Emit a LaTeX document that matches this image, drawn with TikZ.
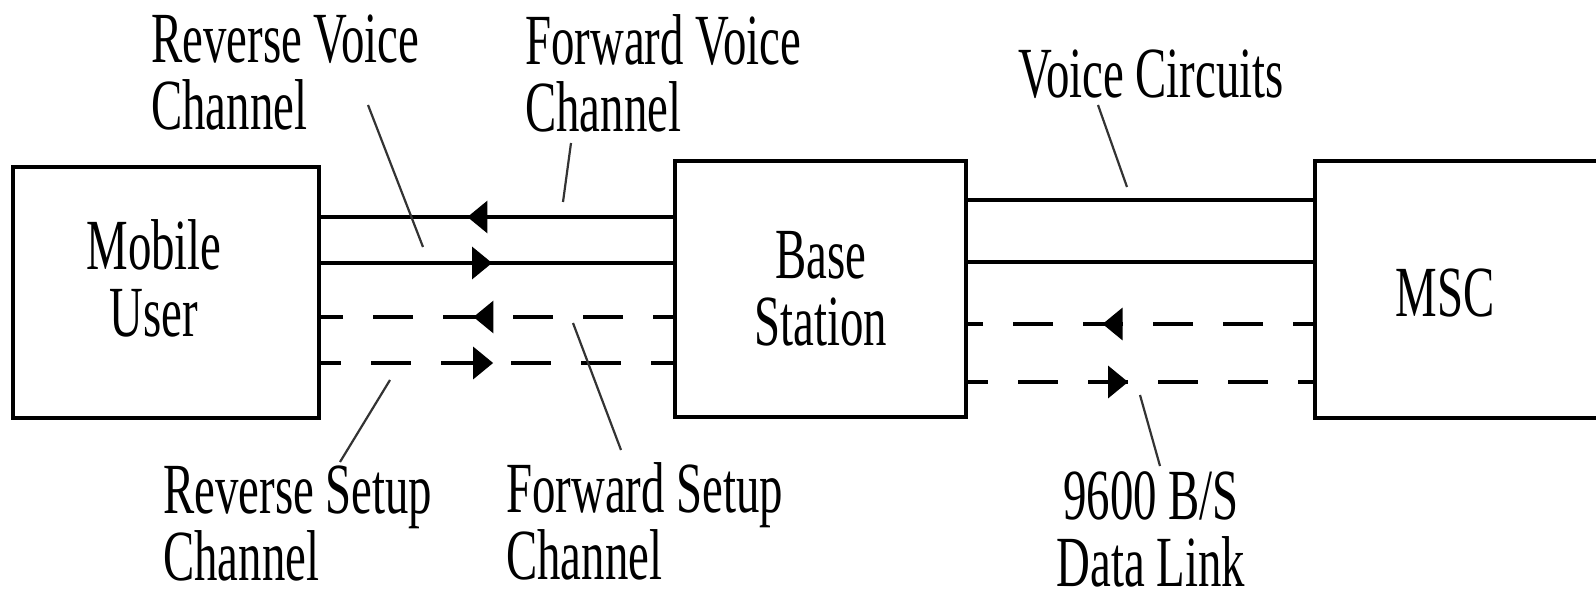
\documentclass[tikz,border=0pt]{standalone}
\usepackage{fontspec}
\setmainfont{Liberation Serif}
\usepackage{tikz}
\usetikzlibrary{arrows.meta,decorations.markings}

\tikzset{
  unitbox/.style={draw,line width=2pt,inner sep=0pt},
  lbl/.style={font=\fontsize{36}{33.5}\selectfont,align=left,xscale=0.65,inner sep=0pt},
  chan/.style={line width=1.7pt},
  setup/.style={chan,dash pattern=on 20pt off 15pt,dash phase=10pt},
  leader/.style={line width=1.1pt,black!80},
  tipat/.style={postaction={decorate},decoration={markings,
    mark=at position #1 with {\arrow{Triangle[length=10pt,width=16pt]}}}},
}

\begin{document}
\begin{tikzpicture}[x=0.5pt,y=-0.5pt]
\useasboundingbox (0,0) rectangle (1596,598);

% the three units; the MSC box runs off the right edge
\node[unitbox,minimum width=153pt,minimum height=125.5pt] (mob) at (166,292.5) {};
\node[unitbox,minimum width=145.5pt,minimum height=128pt] (base) at (820.5,289) {};
\node[unitbox,minimum width=162.5pt,minimum height=128.5pt] (msc) at (1477.5,289.5) {};
\node[lbl,align=center] (mobtxt) at (154,278) {Mobile\\User};
\node[lbl,align=center] (basetxt) at (821,289) {Base\\Station};
\node[lbl] (msctxt) at (1445,293) {MSC};

% radio channels between mobile and base
\draw[chan,tipat=0.584] (base.west |- 0,217) -- (mob.east |- 0,217);
\draw[chan,tipat=0.486] (mob.east |- 0,263) -- (base.west |- 0,263);
\draw[setup,tipat=0.567] (base.west |- 0,317) -- (mob.east |- 0,317);
\draw[setup,tipat=0.489] (mob.east |- 0,363) -- (base.west |- 0,363);

% trunk side: voice circuits and data link
\draw[chan] (base.east |- 0,200) -- (msc.west |- 0,200);
\draw[chan] (base.east |- 0,262) -- (msc.west |- 0,262);
\draw[setup,tipat=0.610] (msc.west |- 0,324) -- (base.east |- 0,324);
\draw[setup,tipat=0.464] (base.east |- 0,382) -- (msc.west |- 0,382);

% labels
\node[lbl,anchor=west] (rv) at (151,73) {Reverse Voice\\Channel};
\node[lbl,anchor=west] (fv) at (525,73) {Forward Voice\\Channel};
\node[lbl,anchor=west] (vc) at (1018,74) {Voice Circuits};
\node[lbl,anchor=west] (rs) at (163,524) {Reverse Setup\\Channel};
\node[lbl,anchor=west] (fs) at (506,521) {Forward Setup\\Channel};
\node[lbl,align=center] (dl) at (1151,529) {9600 B/S\\Data Link};

% leader lines
\coordinate (rvA) at (368,105);  \coordinate (rvB) at (423,247);
\coordinate (fvA) at (571,143);  \coordinate (fvB) at (563,202);
\coordinate (vcA) at (1098,105); \coordinate (vcB) at (1127,187);
\coordinate (fsA) at (573,323);  \coordinate (fsB) at (621,450);
\coordinate (rsA) at (390,380);  \coordinate (rsB) at (340,462);
\coordinate (dlA) at (1140,395); \coordinate (dlB) at (1160,466);
\foreach \ld in {rv,fv,vc,fs,rs,dl}
  \draw[leader] (\ld A) -- (\ld B);
\end{tikzpicture}
\end{document}
